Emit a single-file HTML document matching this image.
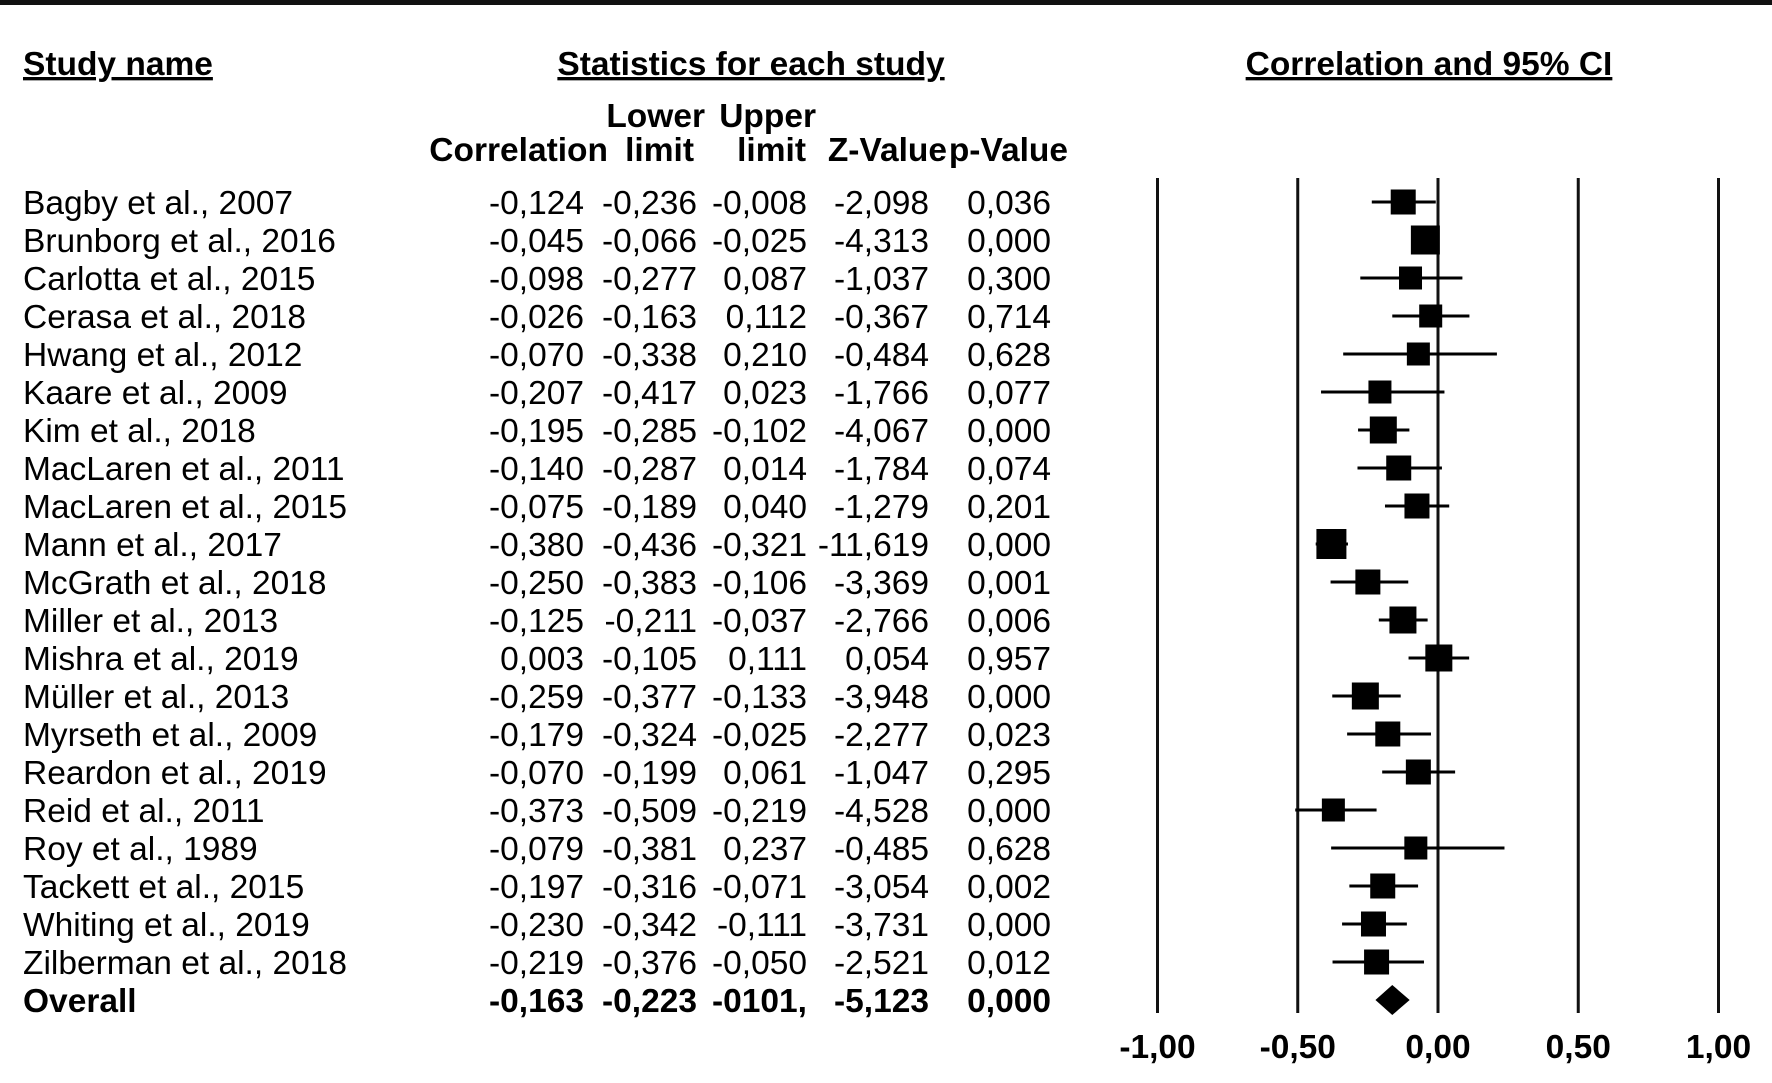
<!DOCTYPE html>
<html><head><meta charset="utf-8"><style>
html,body{margin:0;padding:0;background:#fff}
svg{display:block}
text{font-family:"Liberation Sans",Arial,sans-serif;font-size:33.5px;fill:#000}
.b{font-weight:bold}
</style></head><body>
<svg id="chart" width="1772" height="1083" viewBox="0 0 1772 1083">
<rect x="0" y="0" width="1772" height="5" fill="#111"/>
<text x="23" y="75" class="b" text-decoration="underline">Study name</text>
<text x="751" y="75" class="b" text-anchor="middle" text-decoration="underline">Statistics for each study</text>
<text x="1429" y="75" class="b" text-anchor="middle" text-decoration="underline">Correlation and 95% CI</text>
<text x="705" y="127" class="b" text-anchor="end">Lower</text>
<text x="816" y="127" class="b" text-anchor="end">Upper</text>
<text x="608" y="161" class="b" text-anchor="end">Correlation</text>
<text x="694" y="161" class="b" text-anchor="end">limit</text>
<text x="806" y="161" class="b" text-anchor="end">limit</text>
<text x="947" y="161" class="b" text-anchor="end">Z-Value</text>
<text x="1068" y="161" class="b" text-anchor="end">p-Value</text>
<g id="rows"></g>
<g id="plot"></g>
</svg>
<script>
const studies=["Bagby et al., 2007","Brunborg et al., 2016","Carlotta et al., 2015","Cerasa et al., 2018","Hwang et al., 2012","Kaare et al., 2009","Kim et al., 2018","MacLaren et al., 2011","MacLaren et al., 2015","Mann et al., 2017","McGrath et al., 2018","Miller et al., 2013","Mishra et al., 2019","Müller et al., 2013","Myrseth et al., 2009","Reardon et al., 2019","Reid et al., 2011","Roy et al., 1989","Tackett et al., 2015","Whiting et al., 2019","Zilberman et al., 2018"];
const corr=[-0.124,-0.045,-0.098,-0.026,-0.070,-0.207,-0.195,-0.140,-0.075,-0.380,-0.250,-0.125,0.003,-0.259,-0.179,-0.070,-0.373,-0.079,-0.197,-0.230,-0.219];
const lower=[-0.236,-0.066,-0.277,-0.163,-0.338,-0.417,-0.285,-0.287,-0.189,-0.436,-0.383,-0.211,-0.105,-0.377,-0.324,-0.199,-0.509,-0.381,-0.316,-0.342,-0.376];
const upper=[-0.008,-0.025,0.087,0.112,0.210,0.023,-0.102,0.014,0.040,-0.321,-0.106,-0.037,0.111,-0.133,-0.025,0.061,-0.219,0.237,-0.071,-0.111,-0.050];
const zval=["-2,098","-4,313","-1,037","-0,367","-0,484","-1,766","-4,067","-1,784","-1,279","-11,619","-3,369","-2,766","0,054","-3,948","-2,277","-1,047","-4,528","-0,485","-3,054","-3,731","-2,521"];
const pval=["0,036","0,000","0,300","0,714","0,628","0,077","0,000","0,074","0,201","0,000","0,001","0,006","0,957","0,000","0,023","0,295","0,000","0,628","0,002","0,000","0,012"];
const weights=[25,29,23,23,23,23,27,25,25,30,25,27,27,27,25,25,23,23,25,25,25];
const overall={corr:-0.163,lower:-0.223,upper:-0.101,label:["-0,163","-0,223","-0101,","-5,123","0,000"]};
const ticks=[-1,-0.5,0,0.5,1];
const tickLabels=["-1,00","-0,50","0,00","0,50","1,00"];

const NS="http://www.w3.org/2000/svg";
const xScale=v=>1438+v*280.5;
const yRow=i=>202+i*38;
const fmt=v=>(v<0?"-":"")+Math.abs(v).toFixed(3).replace(".",",");
function mk(tag,attrs,parent){const e=document.createElementNS(NS,tag);for(const k in attrs)e.setAttribute(k,attrs[k]);parent.appendChild(e);return e;}
const rows=document.getElementById("rows"),plot=document.getElementById("plot");
const colX=[584,697,807,929,1051];

ticks.forEach((t,i)=>{
  const l=mk("line",{x1:xScale(t),x2:xScale(t),y1:178,y2:1013,stroke:"#111","stroke-width":3},plot);
  
  
  const tx=mk("text",{x:xScale(t),y:1058,"text-anchor":"middle",class:"b"},plot);
  tx.textContent=tickLabels[i];
  
  
});

studies.forEach((s,i)=>{
  const y=yRow(i);
  const n=mk("text",{x:23,y:y+12},rows);n.textContent=s;
  
  
  const vals=[fmt(corr[i]),fmt(lower[i]),fmt(upper[i]),zval[i],pval[i]];
  vals.forEach((v,j)=>{
    const t=mk("text",{x:colX[j],y:y+12,"text-anchor":"end"},rows);t.textContent=v;
    
    
  });
  const ci=mk("line",{x1:xScale(lower[i]),x2:xScale(upper[i]),y1:y,y2:y,stroke:"#000","stroke-width":3},plot);
  
  
  const w=weights[i];
  const sq=mk("rect",{x:xScale(corr[i])-w/2,y:y-w/2,width:w,height:w,fill:"#000"},plot);
  
  
});

const oy=yRow(21);
const on=mk("text",{x:23,y:oy+12,class:"b"},rows);on.textContent="Overall";


overall.label.forEach((v,j)=>{
  const t=mk("text",{x:colX[j],y:oy+12,"text-anchor":"end",class:"b"},rows);t.textContent=v;
  
  
});
const xl=xScale(overall.lower),xr=xScale(overall.upper),xc=xScale(overall.corr);
const d=mk("polygon",{points:`${xl},${oy} ${xc},${oy-15} ${xr},${oy} ${xc},${oy+15}`,fill:"#000"},plot);


</script>
</body></html>
